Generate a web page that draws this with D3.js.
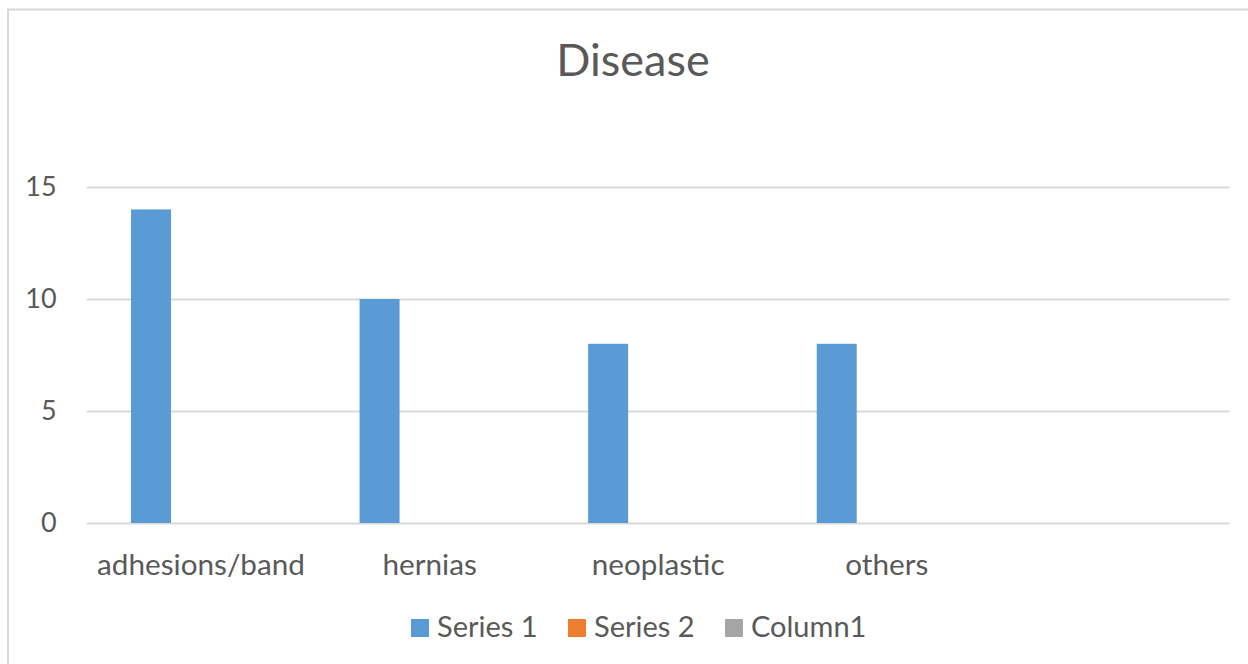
<!DOCTYPE html>
<html>
<head>
<meta charset="utf-8">
<script src="https://cdn.jsdelivr.net/npm/d3@7"></script>
<style>
  html, body { margin: 0; padding: 0; background: #fff; }
  svg { display: block; }
  text { font-family: Lato, "Open Sans", sans-serif; fill: #595959; }
</style>
</head>
<body>
<svg id="chart" width="1248" height="664"></svg>
<script>
// Chart data
const categories = ["adhesions/band", "hernias", "neoplastic", "others", ""];
const seriesNames = ["Series 1", "Series 2", "Column1"];
const series1 = [14, 10, 8, 8, null];
const series2 = [null, null, null, null, null];
const column1 = [null, null, null, null, null];
const yTicks = [0, 5, 10, 15];
const chartTitle = "Disease";

const seriesValues = [series1, series2, column1];
const colors = ["#5B9BD5", "#ED7D31", "#A5A5A5"];

const svg = d3.select("#chart");
const plot = { left: 86.7, right: 1229.6, top: 187, bottom: 523 };

// outer chart frame
svg.append("rect")
  .attr("x", 8).attr("y", 9.5)
  .attr("width", 1300).attr("height", 700)
  .attr("fill", "none").attr("stroke", "#D9D9D9").attr("stroke-width", 2);

// title
svg.append("text")
  .attr("x", 633).attr("y", 76)
  .attr("text-anchor", "middle")
  .attr("font-size", 45)
  .text(chartTitle);

const y = d3.scaleLinear().domain([0, 15]).range([plot.bottom, plot.top]);
const x0 = d3.scaleBand().domain(d3.range(categories.length))
  .range([plot.left, plot.right]).padding(0);
const groupW = 140;
const x1 = d3.scaleBand().domain(d3.range(seriesNames.length))
  .range([x0.bandwidth() / 2 - groupW / 2, x0.bandwidth() / 2 + groupW / 2])
  .paddingInner(0.2).paddingOuter(0);

// value axis with gridlines
const yAxis = d3.axisLeft(y).tickValues(yTicks)
  .tickSize(-(plot.right - plot.left)).tickPadding(30);
const gy = svg.append("g")
  .attr("transform", `translate(${plot.left},0)`)
  .call(yAxis);
gy.select(".domain").remove();
gy.selectAll(".tick line").attr("stroke", "#D9D9D9").attr("stroke-width", 2);
gy.selectAll(".tick text")
  .attr("font-size", 27).attr("fill", "#595959")
  .attr("font-family", "Lato, sans-serif");

// category labels
const xAxis = d3.axisBottom(x0).tickFormat(i => categories[i]).tickSize(0).tickPadding(0);
const gx = svg.append("g")
  .attr("transform", `translate(0,${plot.bottom})`)
  .call(xAxis);
gx.select(".domain").remove();
gx.selectAll(".tick text")
  .attr("font-size", 29.7).attr("fill", "#595959")
  .attr("font-family", "Lato, sans-serif")
  .attr("dy", 0).attr("y", 52);

// bars
const groups = svg.append("g").selectAll("g")
  .data(categories.map((c, i) => i))
  .join("g")
  .attr("transform", i => `translate(${x0(i)},0)`);
groups.selectAll("rect")
  .data(i => seriesValues.map((vals, s) => ({ s, v: vals[i] })).filter(d => d.v != null))
  .join("rect")
  .attr("x", d => x1(d.s))
  .attr("width", x1.bandwidth())
  .attr("y", d => y(d.v))
  .attr("height", d => y(0) - y(d.v))
  .attr("fill", d => colors[d.s]);

// legend
const legendItems = [
  { name: seriesNames[0], color: colors[0], x: 411 },
  { name: seriesNames[1], color: colors[1], x: 568 },
  { name: seriesNames[2], color: colors[2], x: 725 }
];
const lg = svg.append("g");
const li = lg.selectAll("g").data(legendItems).join("g")
  .attr("transform", d => `translate(${d.x},0)`);
li.append("rect").attr("x", 0).attr("y", 619).attr("width", 18).attr("height", 18)
  .attr("fill", d => d.color);
li.append("text").attr("x", 26).attr("y", 637)
  .attr("font-size", 29).text(d => d.name);
</script>
</body>
</html>
